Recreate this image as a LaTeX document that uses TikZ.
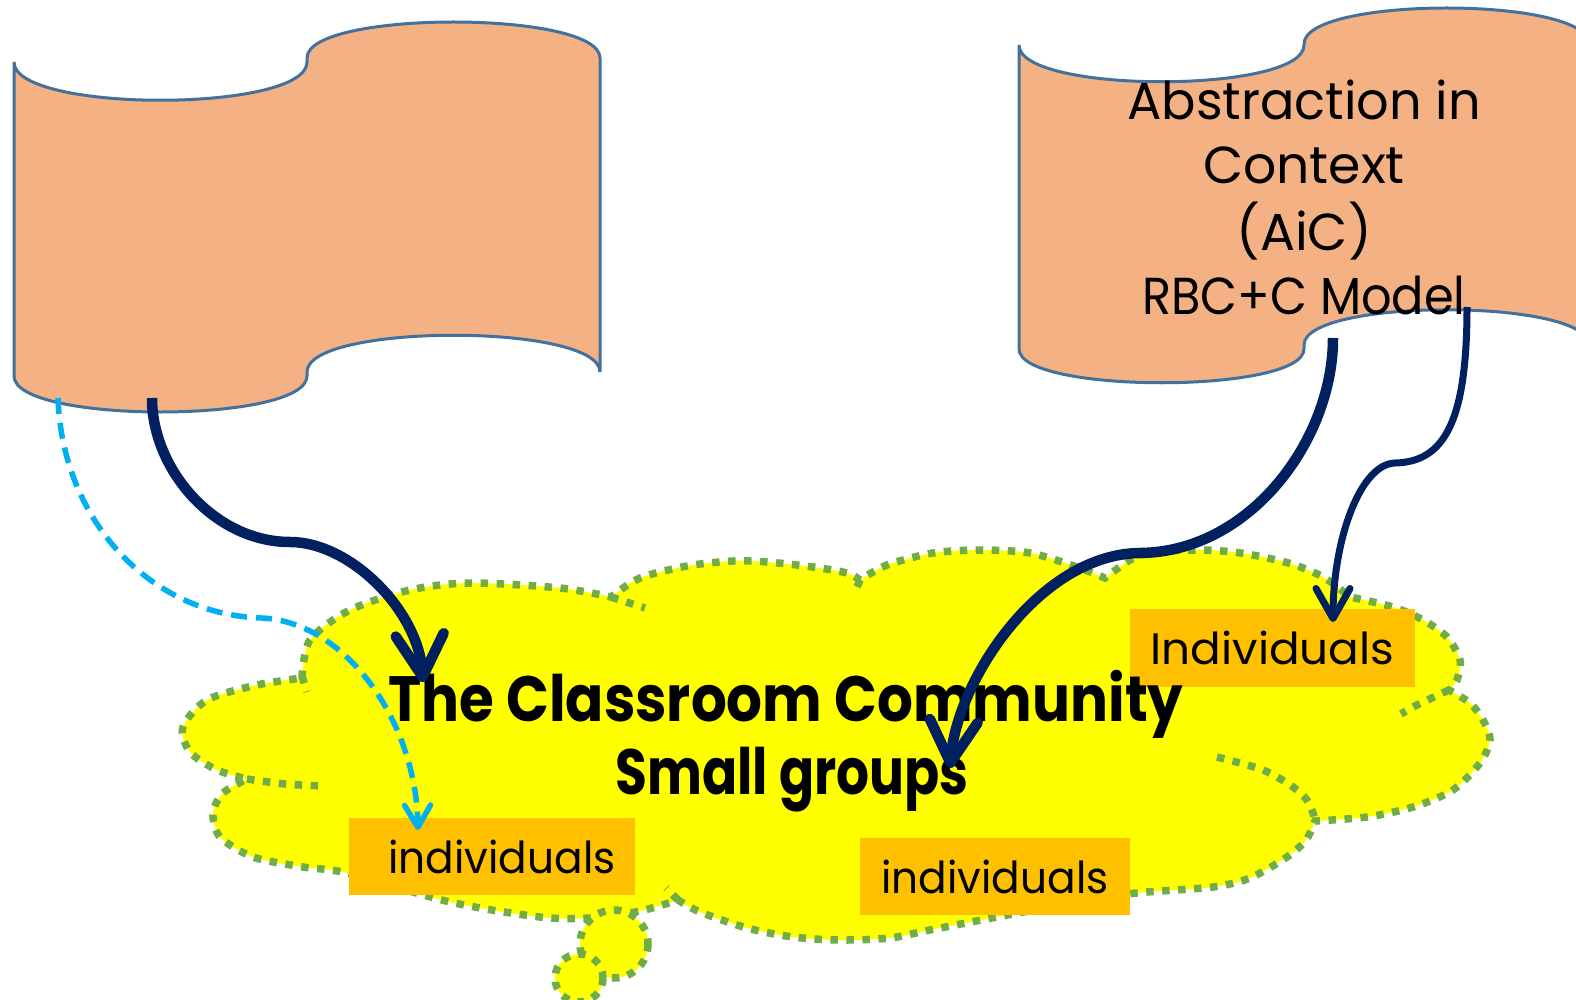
\documentclass[tikz,border=0pt]{standalone}
\usepackage{fontspec}
\usetikzlibrary{arrows.meta}
\newfontfamily\handfont{Poppins}

\definecolor{scrollfill}{HTML}{F4B183}
\definecolor{scrolledge}{HTML}{41719C}
\definecolor{cloudfill}{HTML}{FFFF00}
\definecolor{cloudedge}{HTML}{70AD47}
\definecolor{boxfill}{HTML}{FFC000}
\definecolor{navy}{HTML}{002060}
\definecolor{skyblue}{HTML}{00B0F0}

\tikzset{
  scroll/.style={fill=scrollfill, draw=scrolledge, line width=3pt},
  cloudline/.style={draw=cloudedge, line width=7.5pt, dash pattern=on 7.5pt off 8.5pt},
  cloudshape/.style={cloudline, fill=cloudfill},
  indbox/.style={fill=boxfill, inner sep=0pt, font=\handfont\fontsize{44}{50}\selectfont},
  heavyarrow/.style={draw=navy, line width=10.5pt, -{Straight Barb[length=42pt,width=48pt,round]}},
  lightarrow/.style={draw=navy, line width=7pt, -{Straight Barb[length=30pt,width=34pt,round]}},
  dasharrow/.style={draw=skyblue, line width=5.5pt, dash pattern=on 16pt off 9pt,
                    -{Straight Barb[length=22pt,width=26pt,round]}}
}

\begin{document}
\begin{tikzpicture}[x=1pt,y=-1pt]
\useasboundingbox (0,0) rectangle (1576,1000);

% left scroll (no text)
\filldraw[scroll] (14,62) .. controls (14,113) and (307,113) .. (307,62)
  -- (307,58) .. controls (307,10) and (600,10) .. (600,58)
  -- (600,372) .. controls (600,323) and (307,323) .. (307,372)
  -- (307,376) .. controls (307,424) and (14,424) .. (14,376) -- cycle;

% right scroll
\filldraw[scroll] (1019,45) .. controls (1019,94) and (1304,94) .. (1304,45)
  -- (1304,44) .. controls (1304,-4) and (1589,-4) .. (1589,44)
  -- (1589,345) .. controls (1589,298) and (1304,298) .. (1304,345)
  -- (1304,349) .. controls (1304,394) and (1019,394) .. (1019,349) -- cycle;

% the classroom cloud
\path[cloudshape] (302,678)
  -- plot[smooth] coordinates {(302,678) (310,640) (350,610) (410,590) (470,583) (560,588) (611,597)}
  -- plot[smooth] coordinates {(611,597) (640,578) (687,566) (733,561) (767,562) (813,567) (847,573) (860,580)}
  -- plot[smooth] coordinates {(860,580) (887,565) (933,553) (980,550) (1030,553) (1077,567) (1105,578)}
  -- plot[smooth] coordinates {(1105,578) (1130,560) (1153,552) (1200,550) (1233,552) (1263,557) (1295,565) (1325,578) (1350,597)}
  -- plot[smooth] coordinates {(1350,597) (1393,607) (1423,620) (1447,637) (1460,660) (1457,680) (1449,690)}
  -- plot[smooth] coordinates {(1449,690) (1470,703) (1483,720) (1490,740) (1480,763) (1453,790) (1413,807) (1367,817) (1315,821)}
  -- plot[smooth] coordinates {(1315,821) (1306,840) (1287,857) (1250,878) (1213,887) (1147,892) (1110,896)}
  -- plot[smooth] coordinates {(1110,896) (1050,907) (997,917) (930,930) (890,938) (840,940) (793,937) (747,928) (700,912) (678,900)}
  -- plot[smooth] coordinates {(678,900) (640,911) (590,918) (540,917) (450,902) (347,873) (303,867) (253,857) (220,837) (213,813) (223,793) (247,779)}
  -- plot[smooth] coordinates {(247,779) (217,770) (190,752) (183,727) (207,700) (257,685) (302,678)}
  -- cycle;
% inner folds of the cloud
\draw[cloudline] plot[smooth] coordinates {(247,779) (285,784) (323,786)};
\draw[cloudline] (302,676) -- (307,692);
\draw[cloudline] (611,597) -- (645,608);
\draw[cloudline] (860,580) -- (855,592);
\draw[cloudline] (678,900) -- (666,888);
\draw[cloudline] plot[smooth] coordinates {(1449,690) (1417,705) (1401,714)};
\draw[cloudline] plot[smooth] coordinates {(1217,757) (1263,770) (1293,787) (1307,800) (1313,813) (1315,821)};
% tail bubbles
\filldraw[cloudshape] (614,944) circle[radius=34];
\filldraw[cloudshape] (579,978) circle[radius=24];

% labels in the cloud
\node[indbox, minimum width=286pt, minimum height=77pt] (ind1) at (492,856.5) {\hspace*{20pt}\scalebox{0.96}[1]{individuals}};
\node[indbox, minimum width=270pt, minimum height=77pt] (ind2) at (995,876.5) {\scalebox{0.96}[1]{individuals}};
\node[indbox, minimum width=285pt, minimum height=78pt] (ind3) at (1272.5,648) {\scalebox{1.03}[1]{Individuals}};

\node[anchor=base, inner sep=0pt, font=\handfont\bfseries\fontsize{64}{73}\selectfont] (community) at (786,721)
  {\begin{tabular}[t]{@{}c@{}}\scalebox{0.88}[1]{The Classroom Community}\\\hspace*{12pt}\scalebox{0.81}[1]{Small groups}\end{tabular}};

\node[anchor=base, inner sep=0pt, font=\handfont\fontsize{52}{63.3}\selectfont] (aic) at (1304,120)
  {\begin{tabular}[t]{@{}c@{}}\scalebox{0.98}[1]{Abstraction in}\\Context\\(AiC)\\\scalebox{0.92}[1]{RBC+C Model}\end{tabular}};

% connectors
\coordinate (lA) at (152,398);
\coordinate (lB) at (58,398);
\coordinate (rC) at (1333,338);
\coordinate (rD) at (1467,307);
\coordinate (tipA) at (423,682);
\coordinate (tipB) at (418,830);
\coordinate (tipC) at (950,768);
\coordinate (tipD) at (1333,622);

\draw[dasharrow] (lB) .. controls (62,520) and (150,615) .. (262,618)
  .. controls (345,622) and (416,720) .. (tipB);
\draw[heavyarrow] (lA) .. controls (152,470) and (215,542) .. (290,542)
  .. controls (350,542) and (418,610) .. (tipA);
\draw[heavyarrow] (rC) .. controls (1333,440) and (1250,552) .. (1140,553)
  .. controls (1040,554) and (957,680) .. (tipC);
\draw[lightarrow] (rD) .. controls (1467,420) and (1445,462) .. (1395,463)
  .. controls (1360,464) and (1333,540) .. (tipD);
\end{tikzpicture}
\end{document}
